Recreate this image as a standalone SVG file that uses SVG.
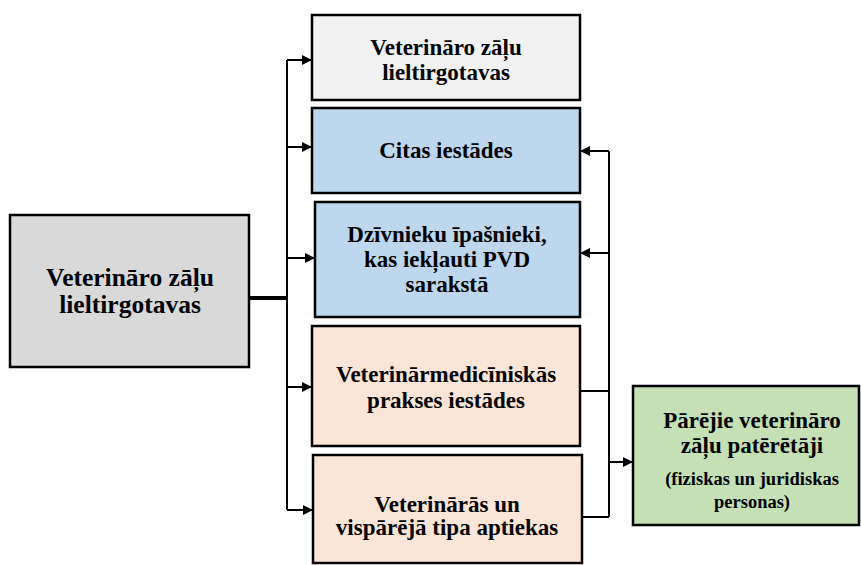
<svg xmlns="http://www.w3.org/2000/svg" width="861" height="565" viewBox="0 0 861 565">
<style>
.box{stroke:#000;stroke-width:2.5}
.t{font-family:'Liberation Serif','Times New Roman','DejaVu Serif',serif;font-weight:bold;font-size:23px;fill:#000;text-anchor:middle}
.s{font-size:18.5px}
.big{font-size:25.5px}
.c{stroke:#000;stroke-width:2;fill:none}
.thick{stroke-width:4}
</style>
<defs>
<marker id="ah" markerWidth="10" markerHeight="10" refX="9" refY="5" orient="auto" markerUnits="userSpaceOnUse">
<path d="M0,0 L10,5 L0,10 z" fill="#000"/>
</marker>
</defs>
<rect width="861" height="565" fill="#fff"/>
<g id="connectors">
<path class="c thick" d="M249,298 H287"/>
<path class="c" d="M287,60 V510"/>
<path class="c" d="M287,60 H311" marker-end="url(#ah)"/>
<path class="c" d="M287,147 H311" marker-end="url(#ah)"/>
<path class="c" d="M287,258 H314" marker-end="url(#ah)"/>
<path class="c" d="M287,387 H311" marker-end="url(#ah)"/>
<path class="c" d="M287,510 H312" marker-end="url(#ah)"/>
<path class="c" d="M580,391 H609"/>
<path class="c" d="M582,517 H609"/>
<path class="c" d="M609,151 V517"/>
<path class="c" d="M609,151 H581" marker-end="url(#ah)"/>
<path class="c" d="M609,253 H581" marker-end="url(#ah)"/>
<path class="c" d="M609,462 H632" marker-end="url(#ah)"/>
</g>
<g id="n-source">
<rect class="box" x="10" y="215" width="239" height="152" fill="#d9d9d9"/>
<text class="t big" x="130" y="286">Veterināro zāļu</text>
<text class="t big" x="130" y="313">lieltirgotavas</text>
</g>
<g id="n-wholesale">
<rect class="box" x="312" y="15" width="268" height="85" fill="#f2f2f2"/>
<text class="t" x="446" y="55">Veterināro zāļu</text>
<text class="t" x="446" y="80">lieltirgotavas</text>
</g>
<g id="n-other">
<rect class="box" x="312" y="108" width="268" height="85" fill="#bdd7ee"/>
<text class="t" x="446" y="158">Citas iestādes</text>
</g>
<g id="n-owners">
<rect class="box" x="315" y="202" width="265" height="115" fill="#bdd7ee"/>
<text class="t" x="447" y="242">Dzīvnieku īpašnieki,</text>
<text class="t" x="447" y="267">kas iekļauti PVD</text>
<text class="t" x="447" y="292">sarakstā</text>
</g>
<g id="n-practices">
<rect class="box" x="312" y="326" width="268" height="120" fill="#fbe5d6"/>
<text class="t" x="446" y="382">Veterinārmedicīniskās</text>
<text class="t" x="446" y="408">prakses iestādes</text>
</g>
<g id="n-pharmacies">
<rect class="box" x="313" y="455" width="269" height="108" fill="#fbe5d6"/>
<text class="t" x="447" y="512">Veterinārās un</text>
<text class="t" x="447" y="535">vispārējā tipa aptiekas</text>
</g>
<g id="n-consumers">
<rect class="box" x="633" y="386" width="226" height="139" fill="#c5e0b4"/>
<text class="t" x="752" y="428">Pārējie veterināro</text>
<text class="t" x="752" y="453">zāļu patērētāji</text>
<text class="t s" x="752" y="485">(fiziskas un juridiskas</text>
<text class="t s" x="752" y="508">personas)</text>
</g>
</svg>
